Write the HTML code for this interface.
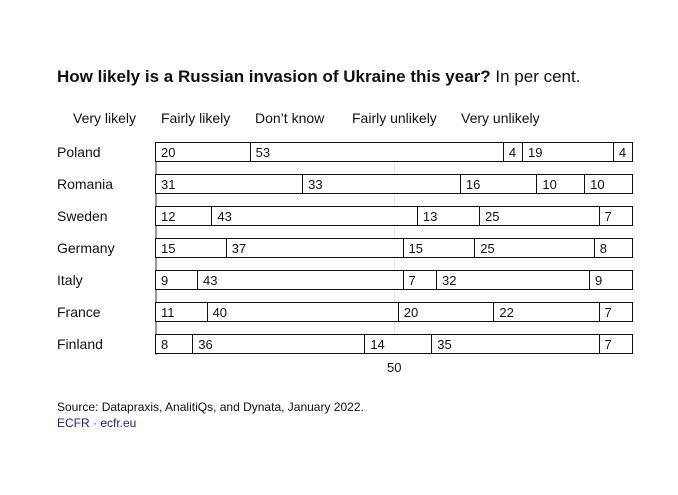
<!DOCTYPE html>
<html><head><style>
body{margin:0;width:678px;height:495px;background:#fff;font-family:"Liberation Sans",sans-serif;color:#111;position:relative;overflow:hidden}
.t{position:absolute;white-space:nowrap}
.bar{position:absolute;left:155px;width:478px;height:20px;display:flex;box-sizing:border-box;background:#fff}
.seg{height:20px;box-sizing:border-box;border:1px solid #111;border-left:none;font-size:13px;line-height:19px;padding-left:5px;overflow:hidden;white-space:nowrap;background:#fff}
.seg:first-child{border-left:1px solid #111}
</style></head><body>
<div class="t" style="left:57px;top:67px;font-size:17px;"><b>How likely is a Russian invasion of Ukraine this year?</b> In per cent.</div>
<div class="t" style="left:73px;top:110px;font-size:14px">Very likely</div>
<div class="t" style="left:161px;top:110px;font-size:14px">Fairly likely</div>
<div class="t" style="left:255px;top:110px;font-size:14px">Don’t know</div>
<div class="t" style="left:352px;top:110px;font-size:14px">Fairly unlikely</div>
<div class="t" style="left:461px;top:110px;font-size:14px">Very unlikely</div>
<div style="position:absolute;left:394px;top:142px;width:1px;height:212px;background:#e6e6e6"></div>
<div style="position:absolute;left:155px;top:142px;width:2px;height:213px;background:#999"></div>
<div id="rows"></div>
<div class="t" style="left:387px;top:360px;font-size:13px">50</div>
<div class="t" style="left:57px;top:400px;font-size:12px">Source: Datapraxis, AnalitiQs, and Dynata, January 2022.</div>
<div class="t" style="left:57px;top:416px;font-size:12px;color:#1a237e">ECFR · ecfr.eu</div>
<script>
var d=[["Poland",[20,53,4,19,4]],["Romania",[31,33,16,10,10]],["Sweden",[12,43,13,25,7]],["Germany",[15,37,15,25,8]],["Italy",[9,43,7,32,9]],["France",[11,40,20,22,7]],["Finland",[8,36,14,35,7]]];
var h="";d.forEach(function(r,i){var y=142+i*32;h+='<div class="t" style="left:57px;top:'+(y+2)+'px;font-size:14px">'+r[0]+'</div><div class="bar" style="top:'+y+'px">';r[1].forEach(function(v){h+='<div class="seg" style="width:'+(v*4.78)+'px">'+v+'</div>'});h+='</div>'});
document.getElementById("rows").innerHTML=h;
</script>
</body></html>
